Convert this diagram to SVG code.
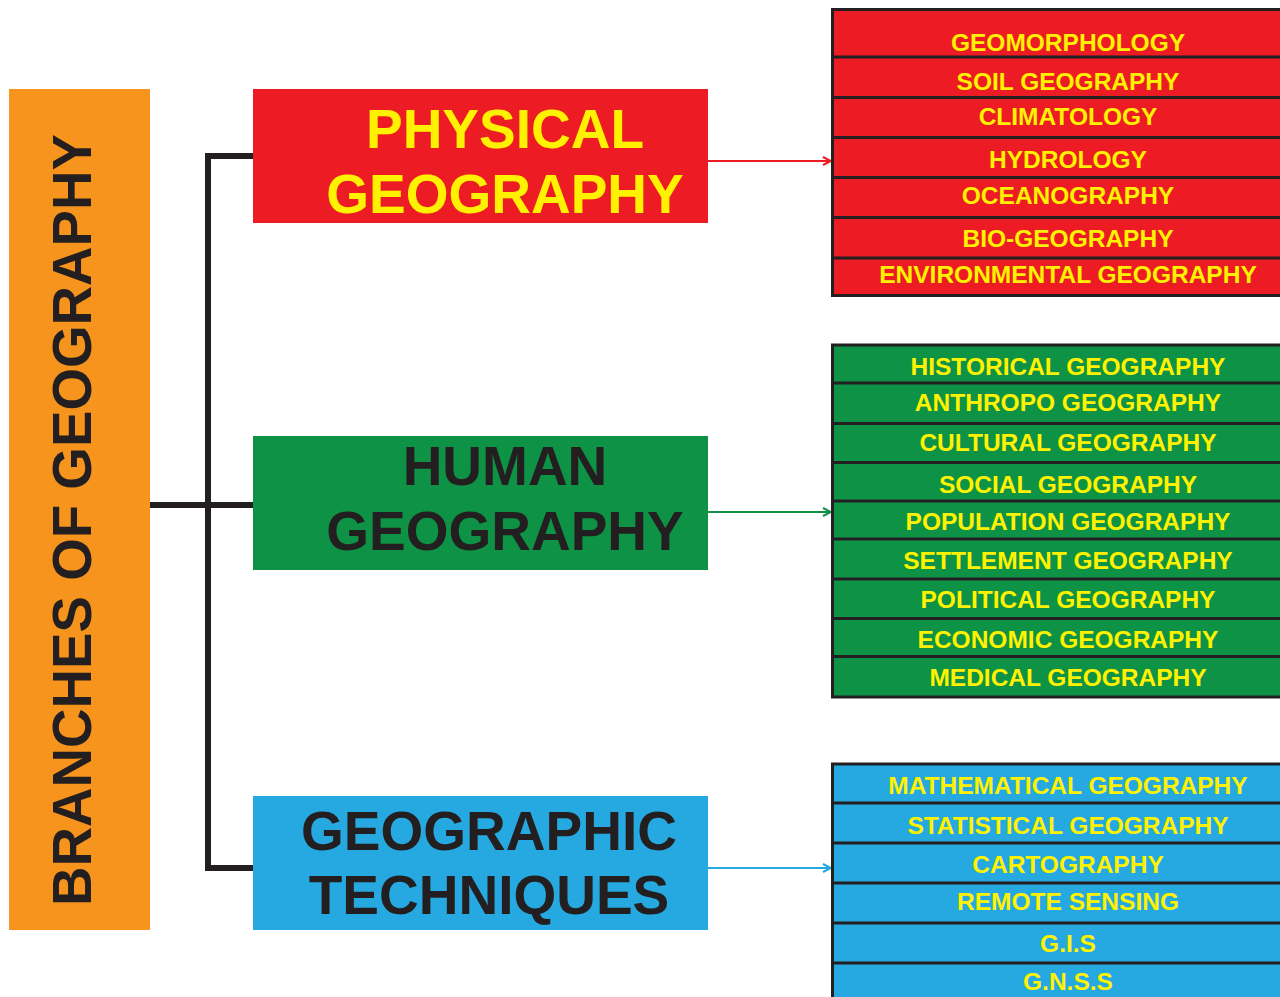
<svg xmlns="http://www.w3.org/2000/svg" width="1280" height="997" viewBox="0 0 1280 997">
<style>
.big{font-family:"Liberation Sans",Arial,sans-serif;font-weight:bold;font-size:55px;text-anchor:middle}
.item{font-family:"Liberation Sans",Arial,sans-serif;font-weight:bold;font-size:24.5px;fill:#fff200;text-anchor:middle}
.sep{stroke:#231f20;stroke-width:3}
.frame{stroke:#231f20;stroke-width:3}
.bracket{fill:none;stroke:#231f20;stroke-width:6}
</style>
<defs>
<marker id="arR" viewBox="0 0 10 10" refX="9" refY="5" markerWidth="10" markerHeight="10" markerUnits="userSpaceOnUse" orient="auto"><path d="M1,1 L9,5 L1,9" fill="none" stroke="#ed1c24" stroke-width="2"/></marker>
<marker id="arG" viewBox="0 0 10 10" refX="9" refY="5" markerWidth="10" markerHeight="10" markerUnits="userSpaceOnUse" orient="auto"><path d="M1,1 L9,5 L1,9" fill="none" stroke="#0e9245" stroke-width="2"/></marker>
<marker id="arB" viewBox="0 0 10 10" refX="9" refY="5" markerWidth="10" markerHeight="10" markerUnits="userSpaceOnUse" orient="auto"><path d="M1,1 L9,5 L1,9" fill="none" stroke="#25a9e0" stroke-width="2"/></marker>
</defs>
<rect width="1280" height="997" fill="#ffffff"/>

<g id="connectors">
<path class="bracket" d="M253,156 H208 V868 H253"/>
<path class="bracket" d="M150,505 H253"/>
<line x1="708" y1="161" x2="831" y2="161" stroke="#ed1c24" stroke-width="2" marker-end="url(#arR)"/>
<line x1="708" y1="512" x2="831" y2="512" stroke="#0e9245" stroke-width="2" marker-end="url(#arG)"/>
<line x1="708" y1="868" x2="831" y2="868" stroke="#25a9e0" stroke-width="2" marker-end="url(#arB)"/>
</g>

<g id="root">
<rect x="9" y="89" width="141" height="841" fill="#f7941d"/>
<text transform="translate(91,520) rotate(-90)" x="0" y="0" font-family="'Liberation Sans',Arial,sans-serif" font-weight="bold" font-size="56" fill="#231f20" text-anchor="middle" textLength="772" lengthAdjust="spacingAndGlyphs">BRANCHES OF GEOGRAPHY</text>
</g>

<g id="physical">
<rect x="253" y="89" width="455" height="134" fill="#ed1c24"/>
<text class="big" x="505" y="148" fill="#fff200">PHYSICAL</text>
<text class="big" x="505" y="213" fill="#fff200">GEOGRAPHY</text>
</g>

<g id="human">
<rect x="253" y="436" width="455" height="134" fill="#0e9245"/>
<text class="big" x="505" y="485" fill="#231f20">HUMAN</text>
<text class="big" x="505" y="550" fill="#231f20">GEOGRAPHY</text>
</g>

<g id="techniques">
<rect x="253" y="796" width="455" height="134" fill="#25a9e0"/>
<text class="big" x="489" y="850" fill="#231f20">GEOGRAPHIC</text>
<text class="big" x="489" y="914" fill="#231f20">TECHNIQUES</text>
</g>

<g id="physical-list">
<rect class="frame" x="832.5" y="9.5" width="460" height="286" fill="#ed1c24"/>
<line class="sep" x1="832" y1="57" x2="1280" y2="57"/>
<line class="sep" x1="832" y1="97.5" x2="1280" y2="97.5"/>
<line class="sep" x1="832" y1="137.5" x2="1280" y2="137.5"/>
<line class="sep" x1="832" y1="177.5" x2="1280" y2="177.5"/>
<line class="sep" x1="832" y1="217.5" x2="1280" y2="217.5"/>
<line class="sep" x1="832" y1="258" x2="1280" y2="258"/>
<text class="item" x="1068" y="51">GEOMORPHOLOGY</text>
<text class="item" x="1068" y="90">SOIL GEOGRAPHY</text>
<text class="item" x="1068" y="125">CLIMATOLOGY</text>
<text class="item" x="1068" y="168">HYDROLOGY</text>
<text class="item" x="1068" y="204">OCEANOGRAPHY</text>
<text class="item" x="1068" y="246.5">BIO-GEOGRAPHY</text>
<text class="item" x="1068" y="282.5">ENVIRONMENTAL GEOGRAPHY</text>
</g>

<g id="human-list">
<rect class="frame" x="832.5" y="345" width="460" height="352" fill="#0e9245"/>
<line class="sep" x1="832" y1="383" x2="1280" y2="383"/>
<line class="sep" x1="832" y1="423.5" x2="1280" y2="423.5"/>
<line class="sep" x1="832" y1="462.5" x2="1280" y2="462.5"/>
<line class="sep" x1="832" y1="501" x2="1280" y2="501"/>
<line class="sep" x1="832" y1="539" x2="1280" y2="539"/>
<line class="sep" x1="832" y1="579" x2="1280" y2="579"/>
<line class="sep" x1="832" y1="618.5" x2="1280" y2="618.5"/>
<line class="sep" x1="832" y1="656.5" x2="1280" y2="656.5"/>
<text class="item" x="1068" y="375">HISTORICAL GEOGRAPHY</text>
<text class="item" x="1068" y="411">ANTHROPO GEOGRAPHY</text>
<text class="item" x="1068" y="451">CULTURAL GEOGRAPHY</text>
<text class="item" x="1068" y="492.5">SOCIAL GEOGRAPHY</text>
<text class="item" x="1068" y="530">POPULATION GEOGRAPHY</text>
<text class="item" x="1068" y="569">SETTLEMENT GEOGRAPHY</text>
<text class="item" x="1068" y="607.5">POLITICAL GEOGRAPHY</text>
<text class="item" x="1068" y="648">ECONOMIC GEOGRAPHY</text>
<text class="item" x="1068" y="685.5">MEDICAL GEOGRAPHY</text>
</g>

<g id="techniques-list">
<rect class="frame" x="832.5" y="764" width="460" height="250" fill="#25a9e0"/>
<line class="sep" x1="832" y1="803" x2="1280" y2="803"/>
<line class="sep" x1="832" y1="843" x2="1280" y2="843"/>
<line class="sep" x1="832" y1="883" x2="1280" y2="883"/>
<line class="sep" x1="832" y1="923" x2="1280" y2="923"/>
<line class="sep" x1="832" y1="963" x2="1280" y2="963"/>
<text class="item" x="1068" y="793.5">MATHEMATICAL GEOGRAPHY</text>
<text class="item" x="1068" y="834">STATISTICAL GEOGRAPHY</text>
<text class="item" x="1068" y="872.5">CARTOGRAPHY</text>
<text class="item" x="1068" y="909.5">REMOTE SENSING</text>
<text class="item" x="1068" y="951.5">G.I.S</text>
<text class="item" x="1068" y="990">G.N.S.S</text>
</g>
</svg>
